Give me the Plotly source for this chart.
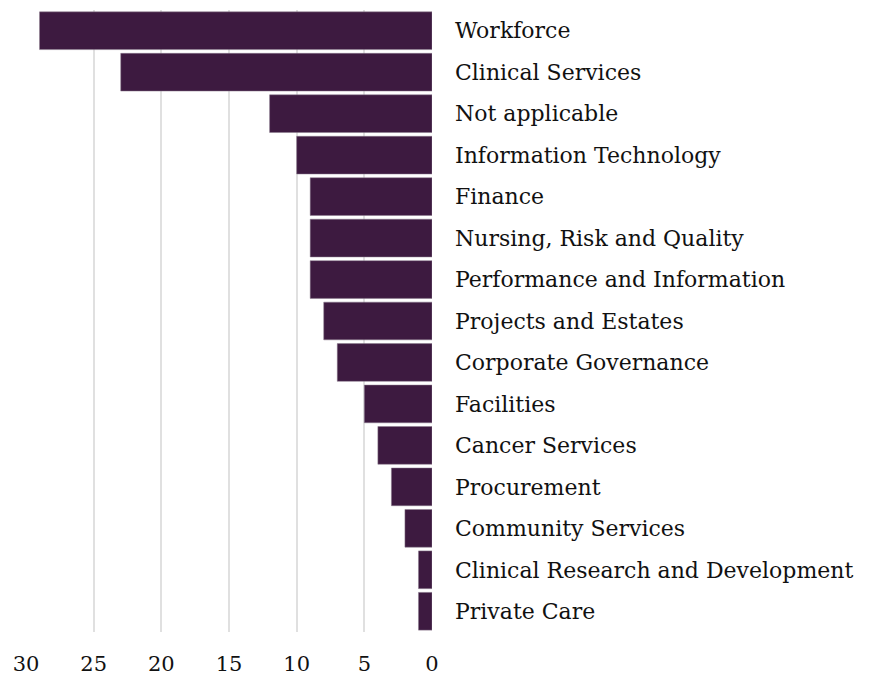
import plotly.graph_objects as go

categories = [
    "Workforce",
    "Clinical Services",
    "Not applicable",
    "Information Technology",
    "Finance",
    "Nursing, Risk and Quality",
    "Performance and Information",
    "Projects and Estates",
    "Corporate Governance",
    "Facilities",
    "Cancer Services",
    "Procurement",
    "Community Services",
    "Clinical Research and Development",
    "Private Care",
]
counts = [29, 23, 12, 10, 9, 9, 9, 8, 7, 5, 4, 3, 2, 1, 1]
x_ticks = [0, 5, 10, 15, 20, 25, 30]

bar_color = "#3d1a40"
font_family = "DejaVu Serif, serif"

fig = go.Figure(
    go.Bar(
        x=counts,
        y=categories,
        orientation="h",
        marker=dict(color=bar_color, line=dict(color="#8a7a8c", width=0.5)),
        hoverinfo="x+y",
    )
)

# page body adds 8px, so the figure is a bit smaller than the window
fig.update_layout(
    width=869,
    height=672,
    margin=dict(l=18, r=445, t=2, b=48),
    plot_bgcolor="white",
    paper_bgcolor="white",
    bargap=0.09,
    showlegend=False,
    font=dict(family=font_family, size=21, color="#111111"),
)
fig.update_xaxes(
    range=[30, 0],
    tickvals=x_ticks,
    showgrid=True,
    gridcolor="#e0e0e0",
    gridwidth=1.5,
    zeroline=False,
    showline=False,
    ticks="",
    tickfont=dict(size=21),
    ticklabelstandoff=17,
)
fig.update_yaxes(
    side="right",
    autorange="reversed",
    showgrid=False,
    showline=False,
    ticks="",
    tickfont=dict(size=22),
    ticklabelstandoff=22,
)

fig.write_html("out.html")
